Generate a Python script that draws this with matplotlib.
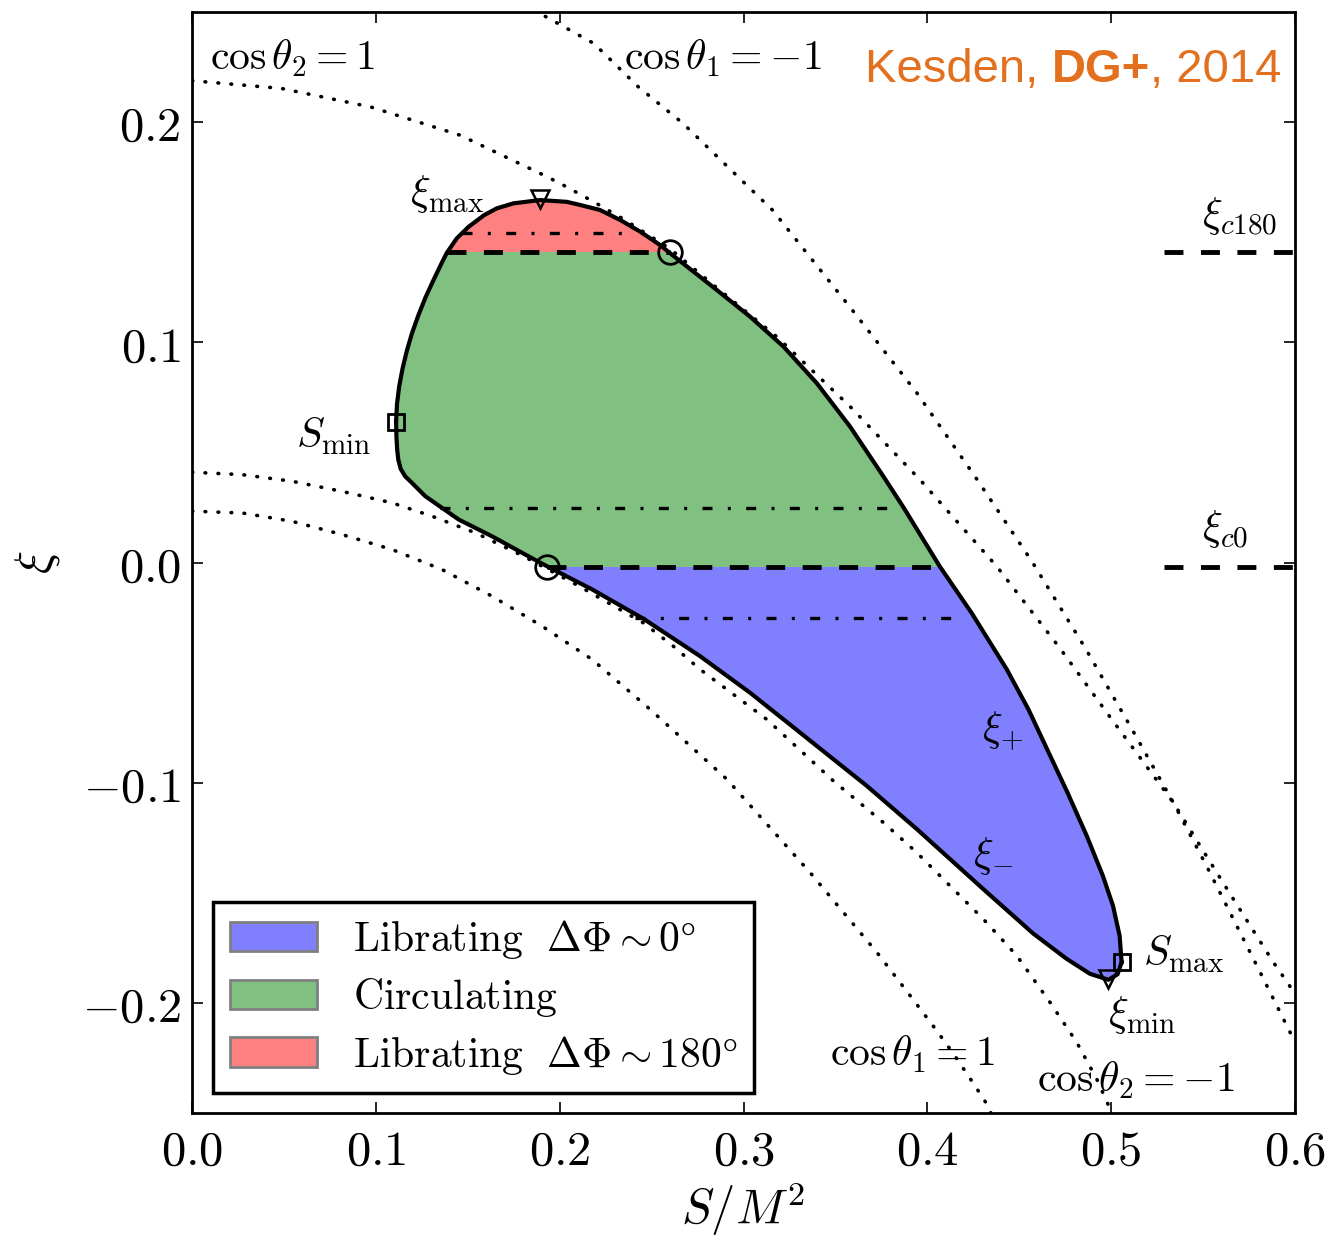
import numpy as np
import matplotlib
matplotlib.use('Agg')
import matplotlib.pyplot as plt
from matplotlib.patches import Polygon, Patch

plt.rcParams['mathtext.fontset'] = 'cm'
plt.rcParams['font.family'] = ['DejaVu Sans']

# ---------------- data ----------------
# upper branch xi_+ (from S_min to S_max)
S_plus = [0.1110, 0.1115, 0.1127, 0.1145, 0.1168, 0.1196, 0.1230, 0.1268, 0.1312, 0.1358,
          0.1385, 0.1440, 0.1505, 0.1590, 0.1657, 0.1748, 0.1893, 0.2038, 0.2110, 0.2219,
          0.2328, 0.2437, 0.2546, 0.2600, 0.2854, 0.3035, 0.3217, 0.3398, 0.3579, 0.3761,
          0.3872, 0.4067, 0.4240, 0.4432, 0.4550, 0.4660, 0.4762, 0.4867, 0.4955, 0.5010,
          0.5046, 0.5057]
xi_plus = [0.0640, 0.0720, 0.0800, 0.0880, 0.0960, 0.1040, 0.1120, 0.1200, 0.1280, 0.1360,
           0.1405, 0.1472, 0.1525, 0.1578, 0.1608, 0.1631, 0.1646, 0.1638, 0.1624, 0.1601,
           0.1556, 0.1503, 0.1442, 0.1405, 0.1238, 0.1117, 0.0981, 0.0815, 0.0618, 0.0391,
           0.0248, -0.0017, -0.0228, -0.0485, -0.0667, -0.0863, -0.1044, -0.1241, -0.1423, -0.1559,
           -0.1695, -0.1815]
# lower branch xi_- (from S_min to S_max)
S_minus = [0.1110, 0.1112, 0.1116, 0.1122, 0.1135, 0.1160, 0.1197, 0.1269, 0.1360, 0.1451,
           0.1632, 0.1813, 0.1931, 0.2176, 0.2455, 0.2763, 0.3035, 0.3307, 0.3670, 0.3942,
           0.4304, 0.4576, 0.4758, 0.4885, 0.4985, 0.5035, 0.5057]
xi_minus = [0.0640, 0.0570, 0.0512, 0.0467, 0.0425, 0.0391, 0.0361, 0.0301, 0.0248, 0.0195,
            0.0119, 0.0036, -0.0017, -0.0122, -0.0255, -0.0425, -0.0591, -0.0772, -0.1014, -0.1210,
            -0.1483, -0.1685, -0.1800, -0.1868, -0.1895, -0.1870, -0.1815]

# dotted limits
S_c2p1 = [0.0, 0.0486, 0.0971, 0.1457, 0.1894, 0.2002, 0.2183, 0.2346, 0.2600, 0.2854,
          0.3180, 0.3579, 0.3960, 0.4377, 0.4713, 0.5003, 0.5338, 0.5520, 0.5647, 0.5882,
          0.5964, 0.6000]
xi_c2p1 = [0.2188, 0.2153, 0.2069, 0.1941, 0.1767, 0.1722, 0.1639, 0.1560, 0.1425, 0.1248,
           0.1026, 0.0709, 0.0376, -0.0017, -0.0380, -0.0712, -0.1090, -0.1335, -0.1505,
           -0.1815, -0.1914, -0.1960]
S_c1m1 = [0.1800, 0.1894, 0.2186, 0.2428, 0.2671, 0.2914, 0.3157, 0.3598, 0.3943, 0.4259,
          0.4568, 0.4858, 0.5103, 0.5338, 0.5520, 0.5647, 0.5810, 0.5964, 0.6000]
xi_c1m1 = [0.2540, 0.2493, 0.2357, 0.2160, 0.1994, 0.1797, 0.1601, 0.1140, 0.0770, 0.0391,
           0.0006, -0.0387, -0.0742, -0.1090, -0.1380, -0.1590, -0.1860, -0.2118, -0.2178]
S_c2m1 = [0.0, 0.0272, 0.0544, 0.0816, 0.1088, 0.1306, 0.1541, 0.1800, 0.2100, 0.2455,
          0.2618, 0.2763, 0.3126, 0.3489, 0.3761, 0.3942, 0.4123, 0.4304, 0.4486, 0.4667,
          0.4812, 0.4921, 0.4994, 0.5010]
xi_c2m1 = [0.0410, 0.0399, 0.0369, 0.0323, 0.0271, 0.0210, 0.0135, 0.0030, -0.0105, -0.0274,
           -0.0380, -0.0485, -0.0712, -0.0992, -0.1181, -0.1317, -0.1468, -0.1619, -0.1785,
           -0.1997, -0.2178, -0.2345, -0.2481, -0.2520]
S_c1p1 = [0.0, 0.0272, 0.0544, 0.0816, 0.1088, 0.1360, 0.1632, 0.1904, 0.2176, 0.2492,
          0.2909, 0.3361, 0.3725, 0.3900, 0.4050, 0.4142, 0.4250, 0.4332, 0.4355]
xi_c1p1 = [0.0233, 0.0225, 0.0187, 0.0127, 0.0059, -0.0032, -0.0153, -0.0289, -0.0440, -0.0667,
           -0.0984, -0.1407, -0.1770, -0.1960, -0.2125, -0.2231, -0.2365, -0.2470, -0.2520]

# resonant values and their S extent
xi_c180 = 0.141
xi_c0 = -0.002
S_c180_inside = [0.1385, 0.2600]
S_c0_inside = [0.1931, 0.4067]
S_stub = [0.529, 0.600]
# sample xi levels (dash-dot)
xi_samples = [0.1498, 0.0248, -0.0251]
S_samples = [(0.1467, 0.2365), (0.1351, 0.3834), (0.2412, 0.4172)]

# special points
res_S = [0.2600, 0.1931]
res_xi = [xi_c180, xi_c0]
Sext_S = [0.1110, 0.5057]
Sext_xi = [0.0640, -0.1815]
xiext_S = [0.1893, 0.4985]
xiext_xi = [0.1649, -0.1890]

xticks = [0.0, 0.1, 0.2, 0.3, 0.4, 0.5, 0.6]
xticklabels = [r'$0.0$', r'$0.1$', r'$0.2$', r'$0.3$', r'$0.4$', r'$0.5$', r'$0.6$']
yticks = [-0.2, -0.1, 0.0, 0.1, 0.2]
yticklabels = [r'$-0.2$', r'$-0.1$', r'$0.0$', r'$0.1$', r'$0.2$']

region_colors = ['#8080ff', '#80c080', '#ff8080']
region_labels = [r'$\mathrm{Librating}\ \ \Delta\Phi\sim0\degree$',
                 r'$\mathrm{Circulating}$',
                 r'$\mathrm{Librating}\ \ \Delta\Phi\sim180\degree$']

# ---------------- figure ----------------
fig = plt.figure(figsize=(13.29, 12.39), dpi=100)
ax = fig.add_axes([0.1445, 0.1017, 0.8299, 0.8886])
ax.set_xlim(0.0, 0.6)
ax.set_ylim(-0.25, 0.25)

# filled regions, clipped to the closed contour
cont = np.column_stack([S_plus + S_minus[::-1], xi_plus + xi_minus[::-1]])
poly = Polygon(cont, closed=True, facecolor='none', edgecolor='none')
ax.add_patch(poly)
bands = [(-0.25, xi_c0), (xi_c0, xi_c180), (xi_c180, 0.25)]
for (lo, hi), c in zip(bands, region_colors):
    sp = ax.axhspan(lo, hi, color=c, lw=0, zorder=1)
    sp.set_clip_path(poly)

dot_style = dict(color='k', lw=2.6, linestyle=(0, (0.2, 3.4)), dash_capstyle='round', zorder=2)
for s, x in [(S_c2p1, xi_c2p1), (S_c1m1, xi_c1m1), (S_c2m1, xi_c2m1), (S_c1p1, xi_c1p1)]:
    ax.plot(s, x, **dot_style)

dash_style = dict(color='k', lw=3.5, linestyle=(0, (3.9, 3.6)), zorder=3)
ax.plot(S_c180_inside, [xi_c180] * 2, **dash_style)
ax.plot(S_c0_inside, [xi_c0] * 2, **dash_style)
ax.plot(S_stub, [xi_c180] * 2, **dash_style)
ax.plot(S_stub, [xi_c0] * 2, **dash_style)

for lev, (s0, s1) in zip(xi_samples, S_samples):
    ax.plot([s0, s1], [lev, lev], color='k', lw=2.4,
            linestyle=(0, (3.0, 4.6, 0.9, 4.6)), zorder=3)

ax.plot(S_plus, xi_plus, color='k', lw=3, solid_joinstyle='round', zorder=4)
ax.plot(S_minus, xi_minus, color='k', lw=3, solid_joinstyle='round', zorder=4)

ax.plot(res_S, res_xi, 'o', ms=17, mfc='none', mec='k', mew=2, zorder=5)
ax.plot(Sext_S, Sext_xi, 's', ms=12, mfc='none', mec='k', mew=2, zorder=5)
ax.plot(xiext_S, xiext_xi, 'v', ms=13, mfc='none', mec='k', mew=1.8, zorder=5)

# annotations
fs = 30
ax.text(0.0097, 0.2236, r'$\cos\theta_2=1$', fontsize=fs, va='baseline')
ax.text(0.2350, 0.2239, r'$\cos\theta_1=-1$', fontsize=fs, va='baseline')
ax.text(0.3470, -0.2284, r'$\cos\theta_1=1$', fontsize=fs, va='baseline')
ax.text(0.4595, -0.2405, r'$\cos\theta_2=-1$', fontsize=fs, va='baseline')
ax.text(0.1186, 0.1622, r'$\xi_{\rm max}$', fontsize=fs, va='baseline')
ax.text(0.4985, -0.2103, r'$\xi_{\rm min}$', fontsize=fs, va='baseline')
ax.text(0.0566, 0.0520, r'$S_{\rm min}$', fontsize=fs, va='baseline')
ax.text(0.5175, -0.1830, r'$S_{\rm max}$', fontsize=fs, va='baseline')
ax.text(0.4296, -0.0812, r'$\xi_{+}$', fontsize=fs, va='baseline')
ax.text(0.4250, -0.1385, r'$\xi_{-}$', fontsize=fs, va='baseline')
ax.text(0.5493, 0.1525, r'$\xi_{c180}$', fontsize=fs, va='baseline')
ax.text(0.5493, 0.0100, r'$\xi_{c0}$', fontsize=fs, va='baseline')

orange = '#e3701e'
t1 = ax.text(0.3661, 0.2183, 'Kesden, ', color=orange, fontsize=34,
             family='Liberation Sans', va='baseline', zorder=6)
t2 = ax.annotate('DG+', xy=(1, 0), xycoords=t1, va='bottom', ha='left', color=orange,
                 fontsize=34, family='Liberation Sans', fontweight='bold', zorder=6)
t3 = ax.annotate(', 2014', xy=(1, 0), xycoords=t2, va='bottom', ha='left', color=orange,
                 fontsize=34, family='Liberation Sans', zorder=6)

# legend
handles = [Patch(facecolor=c, edgecolor='#808080', lw=2) for c in region_colors]
leg = ax.legend(handles, region_labels, loc='lower left', bbox_to_anchor=(0.019, 0.018),
                borderaxespad=0, fontsize=30, fancybox=False, framealpha=1,
                edgecolor='k', handlelength=2.1, handleheight=0.7, handletextpad=0.85,
                labelspacing=0.35, borderpad=0.4)
leg.get_frame().set_linewidth(2.5)
leg.set_zorder(7)

# axes cosmetics
ax.set_xticks(xticks)
ax.set_xticklabels(xticklabels)
ax.set_yticks(yticks)
ax.set_yticklabels(yticklabels)
ax.tick_params(direction='in', length=8, width=1.2, top=True, right=True, labelsize=35)
ax.tick_params(axis='x', pad=10)
ax.tick_params(axis='y', pad=8)
for sp in ax.spines.values():
    sp.set_linewidth(2)
ax.set_xlabel(r'$S/M^2$', fontsize=35, labelpad=4)
ax.set_ylabel(r'$\xi$', fontsize=35, labelpad=14)

fig.savefig('out.png', dpi=100)
